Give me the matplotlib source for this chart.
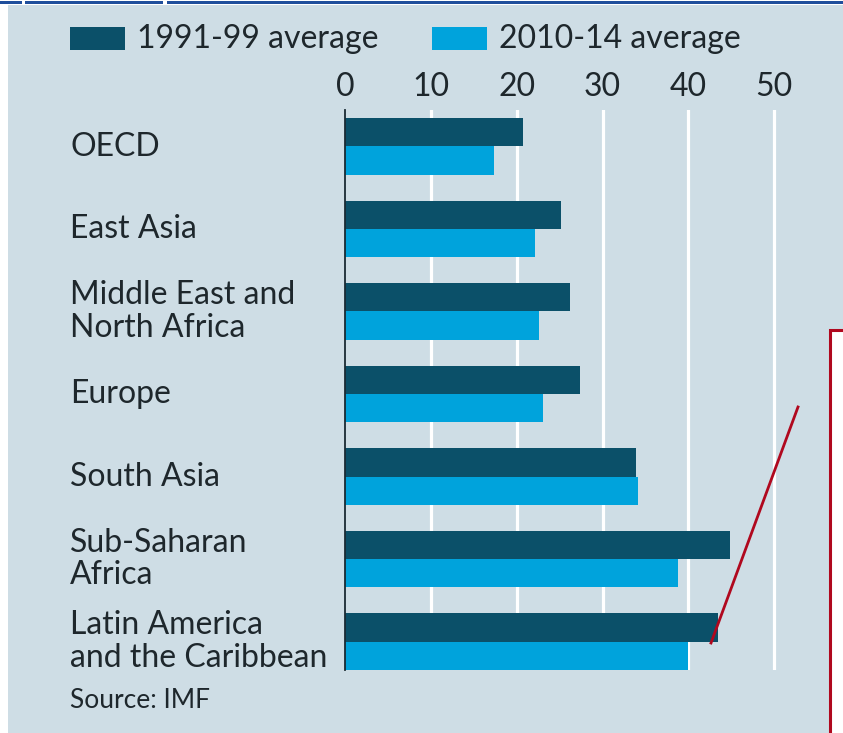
import matplotlib
matplotlib.use('Agg')
import matplotlib.pyplot as plt
from matplotlib.patches import Rectangle
from matplotlib.lines import Line2D
import numpy as np

plt.rcParams['font.family'] = ['Lato', 'DejaVu Sans']

# data
regions = ["OECD", "East Asia", "Middle East and\nNorth Africa", "Europe",
           "South Asia", "Sub-Saharan\nAfrica", "Latin America\nand the Caribbean"]
avg_1991_99 = [20.7, 25.2, 26.2, 27.4, 33.9, 44.9, 43.4]
avg_2010_14 = [17.4, 22.1, 22.6, 23.1, 34.1, 38.8, 39.9]
ticks = [0, 10, 20, 30, 40, 50]
series_names = ["1991-99 average", "2010-14 average"]

W, H = 843, 733
BG = '#cedde5'
DARK = '#0b5069'
LIGHT = '#00a3dc'
TXT = '#1e272c'
RED = '#b0081e'
FS = 23


def fy(py):
    return 1 - py / H


def fx(px):
    return px / W


fig = plt.figure(figsize=(W / 100, H / 100), dpi=100, facecolor='white')

# panel background and the odd bits round the screenshot
fig.patches.append(Rectangle((fx(8), 0), fx(W - 8), fy(5), transform=fig.transFigure,
                             facecolor=BG, edgecolor='none', zorder=-2))
for x0, x1 in [(0, 22), (25, 163), (167, 843)]:
    fig.patches.append(Rectangle((fx(x0), fy(4)), fx(x1 - x0), 3 / H, transform=fig.transFigure,
                                 facecolor='#1f4e9c', edgecolor='none', zorder=-1))

ax = fig.add_axes([fx(345), fy(670), fx(800 - 345), (670 - 110) / H])
ax.set_facecolor('none')
ax.set_zorder(1)

y = np.arange(len(regions))
h = 0.345
ax.barh(y - h / 2, avg_1991_99, height=h, color=DARK, zorder=3)
ax.barh(y + h / 2, avg_2010_14, height=h, color=LIGHT, zorder=3)

ax.set_xlim(0, 53)
ax.set_ylim(len(regions) - 1 + h, -0.442)
ax.set_xticks(ticks)
ax.xaxis.tick_top()
ax.tick_params(axis='x', length=0, pad=6, labelsize=FS, labelcolor=TXT)
ax.set_yticks([])
for t in ticks[1:]:
    ax.axvline(t, color='white', lw=2.3, zorder=1)
for s in ['top', 'right', 'bottom']:
    ax.spines[s].set_visible(False)
ax.spines['left'].set_color('#1a2a33')
ax.spines['left'].set_linewidth(1.3)
ax.spines['left'].set_zorder(4)

for i, lab in enumerate(regions):
    fig.text(fx(70), fy(146.5 + i * 82.5), lab, ha='left', va='center',
             fontsize=FS, color=TXT, linespacing=1.1)

# legend
for (x0, name, c) in [(70, series_names[0], DARK), (432, series_names[1], LIGHT)]:
    fig.patches.append(Rectangle((fx(x0), fy(50)), fx(55), 23 / H, transform=fig.transFigure,
                                 facecolor=c, edgecolor='none', zorder=2))
    fig.text(fx(x0 + 67), fy(38.5), name, ha='left', va='center', fontsize=FS, color=TXT)

fig.text(fx(70), fy(700), "Source: IMF", ha='left', va='center', fontsize=19, color=TXT)

# red annotation marks on the screenshot
fig.lines.append(Line2D([fx(798), fx(711)], [fy(407), fy(643)], transform=fig.transFigure,
                        color=RED, lw=2, zorder=5))
fig.patches.append(Rectangle((fx(830), -0.01), fx(30), fy(330) + 0.01, transform=fig.transFigure,
                             facecolor='white', edgecolor=RED, lw=2.2, zorder=5))

fig.savefig('out.png', dpi=100, facecolor='white')
